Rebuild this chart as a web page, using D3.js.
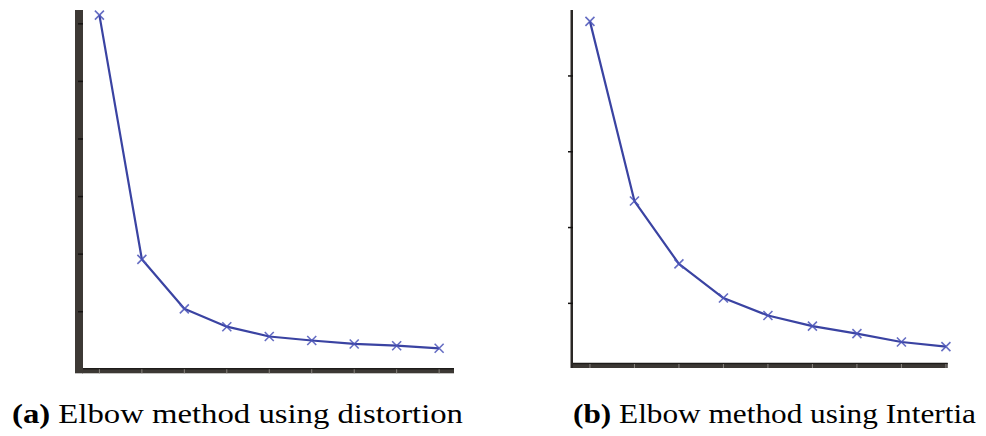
<!DOCTYPE html>
<html>
<head>
<meta charset="utf-8">
<script src="https://cdn.jsdelivr.net/npm/d3@7"></script>
<style>
  html, body { margin: 0; padding: 0; background: #fff; }
  svg { display: block; }
</style>
</head>
<body>
<script>
// Number of clusters (k) on both panels
const clusters = [1, 2, 3, 4, 5, 6, 7, 8, 9];
// Panel (a): distortion, panel (b): inertia (arbitrary units)
const distortion = [6.15, 1.91, 1.05, 0.74, 0.57, 0.5, 0.44, 0.41, 0.365];
const inertia = [4.72, 2.35, 1.52, 1.07, 0.84, 0.7, 0.6, 0.49, 0.43];
const distortionTicks = [1, 2, 3, 4, 5, 6];
const inertiaTicks = [1, 2, 3, 4];
const captions = [
  { label: '(a)', text: ' Elbow method using distortion' },
  { label: '(b)', text: ' Elbow method using Intertia' }
];

const svg = d3
  .select('body')
  .append('svg')
  .attr('width', 986)
  .attr('height', 436);

svg.append('rect').attr('width', 986).attr('height', 436).attr('fill', '#fff');

const lineColor = '#3a43a2';

function drawPanel(opts) {
  const x = d3.scaleLinear().domain(opts.xDomain).range(opts.xRange);
  const y = d3.scaleLinear().domain(opts.yDomain).range(opts.yRange);
  const g = svg.append('g');

  // bottom axis band + ticks
  g.append('rect')
    .attr('x', opts.xRange[0])
    .attr('y', opts.yRange[0] - 1)
    .attr('width', opts.xRange[1] - opts.xRange[0])
    .attr('height', 5)
    .attr('fill', '#3c3834');
  g.append('line')
    .attr('x1', opts.xRange[0])
    .attr('x2', opts.xRange[1])
    .attr('y1', opts.yRange[0] - 0.5)
    .attr('y2', opts.yRange[0] - 0.5)
    .attr('stroke', '#1e1c1a')
    .attr('stroke-width', 1.5);
  g.selectAll('.xtick')
    .data(clusters)
    .join('line')
    .attr('class', 'xtick')
    .attr('x1', (d) => x(d))
    .attr('x2', (d) => x(d))
    .attr('y1', opts.yRange[0])
    .attr('y2', opts.yRange[0] + 4)
    .attr('stroke', '#8a8580')
    .attr('stroke-width', 1);

  // left axis
  g.append('rect')
    .attr('x', opts.axisX)
    .attr('y', opts.yRange[1])
    .attr('width', opts.axisW)
    .attr('height', opts.yRange[0] - opts.yRange[1] + 4)
    .attr('fill', opts.axisFill);
  g.selectAll('.ytick')
    .data(opts.yTicks)
    .join('line')
    .attr('class', 'ytick')
    .attr('x1', opts.axisX + opts.axisW - 5)
    .attr('x2', opts.axisX + opts.axisW)
    .attr('y1', (d) => y(d))
    .attr('y2', (d) => y(d))
    .attr('stroke', '#151312')
    .attr('stroke-width', 1.5);

  const line = d3
    .line()
    .x((d, i) => x(clusters[i]))
    .y((d) => y(d));

  g.append('path')
    .datum(opts.values)
    .attr('d', line)
    .attr('fill', 'none')
    .attr('stroke', lineColor)
    .attr('stroke-width', 2.2)
    .attr('stroke-linejoin', 'round');

  const s = 4.5;
  g.selectAll('.marker')
    .data(opts.values)
    .join('path')
    .attr('class', 'marker')
    .attr('transform', (d, i) => `translate(${x(clusters[i])},${y(d)})`)
    .attr('d', `M${-s},${-s}L${s},${s}M${-s},${s}L${s},${-s}`)
    .attr('stroke', '#4a53b8')
    .attr('stroke-opacity', 0.85)
    .attr('stroke-width', 1.6);

  // caption
  const cap = svg
    .append('text')
    .attr('x', opts.capX)
    .attr('y', 423)
    .attr('font-family', '"Liberation Serif", "Times New Roman", serif')
    .attr('font-size', 27)
    .attr('fill', '#000')
    .attr('textLength', opts.capW)
    .attr('lengthAdjust', 'spacingAndGlyphs');
  cap.append('tspan').attr('font-weight', 'bold').text(opts.caption.label);
  cap.append('tspan').text(opts.caption.text);
}

drawPanel({
  values: distortion,
  xDomain: [0.59, 9.35],
  xRange: [82, 454],
  yDomain: [0, 6.24],
  yRange: [369.3, 10],
  yTicks: distortionTicks,
  axisX: 75,
  axisW: 8,
  axisFill: '#3d3935',
  capX: 12,
  capW: 451,
  caption: captions[0]
});

drawPanel({
  values: inertia,
  xDomain: [0.59, 9.04],
  xRange: [571.7, 947.7],
  yDomain: [0.2, 4.87],
  yRange: [364, 10],
  yTicks: inertiaTicks,
  axisX: 570.5,
  axisW: 2.5,
  axisFill: '#2a2725',
  capX: 573,
  capW: 403,
  caption: captions[1]
});
</script>
</body>
</html>
